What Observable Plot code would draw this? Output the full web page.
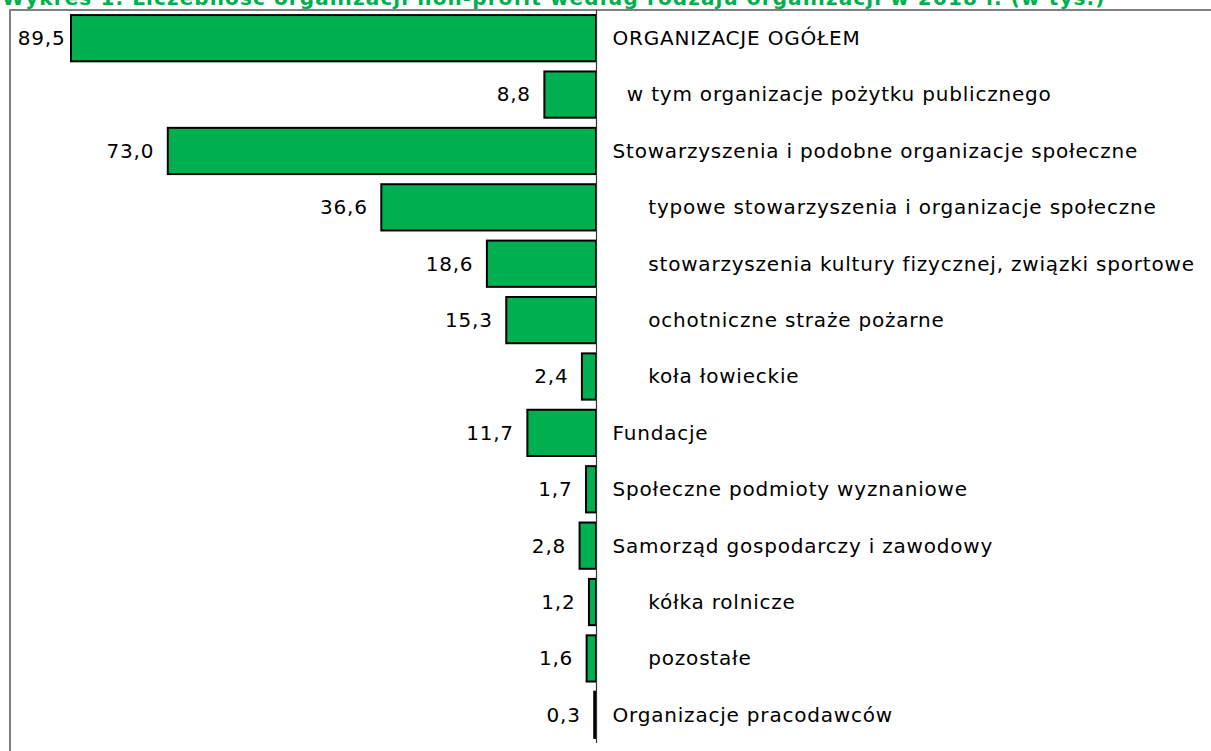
<!DOCTYPE html>
<html>
<head>
<meta charset="utf-8">
<script src="https://cdn.jsdelivr.net/npm/d3@7"></script>
<script src="https://cdn.jsdelivr.net/npm/@observablehq/plot@0.6"></script>
<style>
  html, body { margin: 0; padding: 0; background: #fff; overflow: hidden; }
  #wrap { position: relative; width: 1211px; height: 751px; }
  #title { position: absolute; left: 2px; top: -14px; white-space: nowrap; line-height: 23px;
    font: bold 20px "DejaVu Sans", Verdana, sans-serif; letter-spacing: 1.1px; color: #00B050; }
  #frame { position: absolute; left: 9px; top: 9px; right: -5px; bottom: -5px;
    border-left: 2px solid #808080; border-top: 2px solid #808080; }
  #chart { position: absolute; left: 0; top: 0; }
  #chart svg text { letter-spacing: 0.8px; }
</style>
</head>
<body>
<div id="wrap">
  <div id="frame"></div>
  <div id="title">Wykres 1. Liczebność organizacji non-profit według rodzaju organizacji w 2018 r. (w tys.)</div>
  <div id="chart"></div>
</div>
<script>
const categories = [
  "ORGANIZACJE OGÓŁEM",
  "\u00A0\u00A0w tym organizacje pożytku publicznego",
  "Stowarzyszenia i podobne organizacje społeczne",
  "\u00A0\u00A0\u00A0\u00A0\u00A0typowe stowarzyszenia i organizacje społeczne",
  "\u00A0\u00A0\u00A0\u00A0\u00A0stowarzyszenia kultury fizycznej, związki sportowe",
  "\u00A0\u00A0\u00A0\u00A0\u00A0ochotniczne straże pożarne",
  "\u00A0\u00A0\u00A0\u00A0\u00A0koła łowieckie",
  "Fundacje",
  "Społeczne podmioty wyznaniowe",
  "Samorząd gospodarczy i zawodowy",
  "\u00A0\u00A0\u00A0\u00A0\u00A0kółka rolnicze",
  "\u00A0\u00A0\u00A0\u00A0\u00A0pozostałe",
  "Organizacje pracodawców"
];
const values = [89.5, 8.8, 73.0, 36.6, 18.6, 15.3, 2.4, 11.7, 1.7, 2.8, 1.2, 1.6, 0.3];

const data = categories.map((c, i) => ({name: c, value: values[i]}));
const plFormat = d3.formatLocale({decimal: ",", thousands: "\u00A0", grouping: [3], currency: ["", " zł"]}).format(".1f");
const font = '"DejaVu Sans", Verdana, sans-serif';
const maxValue = d3.max(values);

const chart = Plot.plot({
  width: 1211,
  height: 751,
  marginTop: 10,
  marginBottom: 8,
  marginLeft: 0,
  marginRight: 0,
  style: {fontFamily: font, fontSize: "20px", background: "transparent", color: "#000"},
  x: {domain: [0, maxValue], range: [596, 71], axis: null},
  y: {domain: categories, paddingInner: 0.18, paddingOuter: 0.09, round: false, axis: null},
  marks: [
    Plot.barX(data, {x1: 0, x2: "value", y: "name", fill: "#00B050", stroke: "#000", strokeWidth: 2}),
    Plot.ruleX([0], {stroke: "#333", strokeWidth: 1.2}),
    Plot.text(data, {filter: d => d.value < maxValue, x: "value", y: "name", text: d => plFormat(d.value), textAnchor: "end", dx: -14, fill: "#000", fontSize: 20}),
    Plot.text(data, {filter: d => d.value === maxValue, x: "value", y: "name", text: d => plFormat(d.value), textAnchor: "end", dx: -6, fill: "#000", fontSize: 20}),
    Plot.text(data, {x: 0, y: "name", text: "name", textAnchor: "start", dx: 16, fill: "#000", fontSize: 20})
  ]
});
document.getElementById("chart").appendChild(chart);
</script>
</body>
</html>
